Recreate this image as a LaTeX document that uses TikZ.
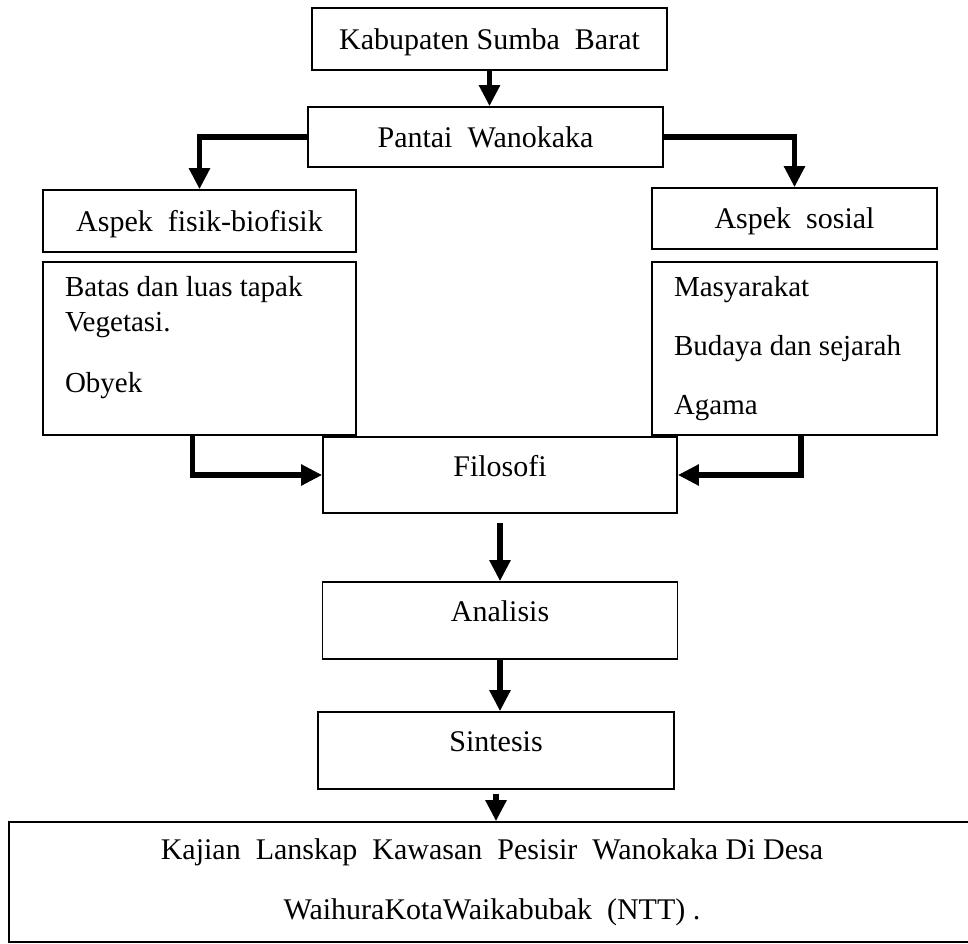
\documentclass[tikz,border=0pt]{standalone}
\usepackage{fontspec}
\setmainfont{Liberation Serif}
\usepackage{tikz}
\usetikzlibrary{arrows.meta}

\begin{document}
\begin{tikzpicture}[x=1pt, y=-1pt,
  box/.style={draw, line width=1.6pt, inner sep=0pt, font=\fontsize{30}{36}\selectfont, text depth=0pt},
  midbox/.style={box, text depth=18pt},
  listbox/.style={draw, line width=1.6pt, inner xsep=22pt, inner ysep=14pt, font=\fontsize{29}{35}\selectfont},
  arr/.style={line width=5.5pt, -{Triangle[length=21pt, width=20pt]}}]
\useasboundingbox[fill=white] (0,0) rectangle (968,943);

\node[box, minimum width=355pt, minimum height=62pt] (kab) at (489.5, 39) {Kabupaten Sumba\ \ Barat};
\node[box, minimum width=355pt, minimum height=60pt] (pantai) at (485.5, 137) {Pantai\ \ Wanokaka};
\node[box, minimum width=313pt, minimum height=62pt] (fisik) at (199.5, 221) {Aspek\ \ fisik-biofisik};
\node[box, minimum width=285pt, minimum height=61pt] (sosial) at (794.5, 218.5) {Aspek\ \ sosial};
\node[listbox] (fisikisi) at (199.5, 348.5) {\begin{minipage}[t][145pt][t]{269pt}\raggedright
Batas dan luas tapak\\ Vegetasi.\\[26pt] Obyek\end{minipage}};
\node[listbox] (sosialisi) at (794.5, 348.5) {\begin{minipage}[t][145pt][t]{241pt}\raggedright
Masyarakat\\[24pt] Budaya dan sejarah\\[24pt] Agama\end{minipage}};
\node[midbox, minimum width=354pt, minimum height=76pt] (filosofi) at (500, 475) {Filosofi};
\node[midbox, minimum width=355pt, minimum height=77pt] (analisis) at (500, 620.5) {Analisis};
\node[midbox, minimum width=356pt, minimum height=77pt] (sintesis) at (496, 750.5) {Sintesis};
\node[draw, line width=1.6pt, align=center, font=\fontsize{30}{36}\selectfont, minimum width=966pt, minimum height=120pt] (kajian) at (492, 882)
  {Kajian\ \ Lanskap\ \ Kawasan\ \ Pesisir\ \ Wanokaka\ Di\ Desa\\[24pt] WaihuraKotaWaikabubak\ \ (NTT)\ .};

\draw[arr] (kab.south) -- (kab.south |- pantai.north);
\draw[arr] (pantai.west) -| (fisik.north); \draw[arr] (pantai.east) -| (sosial.north);
\draw[arr] ([xshift=-7pt]fisikisi.south) |- (filosofi.west); \draw[arr] ([xshift=6.5pt]sosialisi.south) |- (filosofi.east);
\draw[arr] ([yshift=-9pt]filosofi.south) -- (analisis.north);
\draw[arr] (analisis.south) -- (analisis.south |- sintesis.north);
\draw[arr] ([yshift=-4pt]sintesis.south) -- (sintesis.south |- kajian.north);

\end{tikzpicture}
\end{document}
